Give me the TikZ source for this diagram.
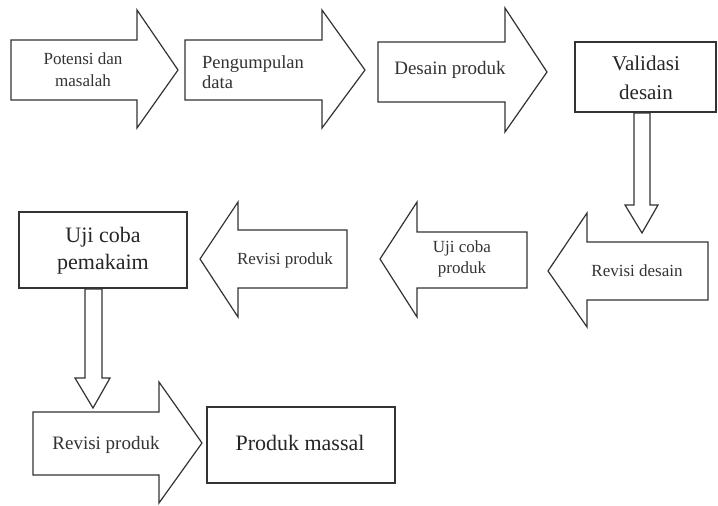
\documentclass[tikz,border=0pt]{standalone}
\usepackage{fontspec}
\setmainfont{Liberation Serif}
\tikzset{
    blockarrow/.style={draw=black!80, line width=1.2pt, fill=white, line join=miter},
    boxed/.style={draw=black!80, line width=1.4pt, fill=white},
    smalltext/.style={text=black!80, align=center, font=\fontsize{17}{22}\selectfont, inner sep=0},
    bigtext/.style={text=black!85, align=center, font=\fontsize{22}{29}\selectfont, inner sep=0}
}

\begin{document}
\begin{tikzpicture}[x=1pt, y=-1pt]
    \useasboundingbox (0,0) rectangle (718,506);
    % top row
    \draw[blockarrow] (11,40) -- (137,40) -- (137,10) -- (178,70) -- (137,128) -- (137,100) -- (11,100) -- cycle;
    \draw[blockarrow] (185,40) -- (322,40) -- (322,10) -- (365,70) -- (322,128) -- (322,100) -- (185,100) -- cycle;
    \draw[blockarrow] (378,42) -- (505,42) -- (505,8) -- (547,72) -- (505,132) -- (505,102) -- (378,102) -- cycle;
    \draw[boxed] (575,42) rectangle (716,112);
    \node[smalltext, font=\fontsize{17}{22}\selectfont] (potensi) at (83,70) {Potensi dan\\masalah};
    \node[smalltext, align=left, font=\fontsize{18.5}{20}\selectfont, anchor=west] (kumpul) at (202,72) {Pengumpulan\\data};
    \node[smalltext, font=\fontsize{19}{22}\selectfont] (desain) at (450,70) {Desain produk};
    \node[bigtext, font=\fontsize{21}{29}\selectfont] (validasi) at (646,78) {Validasi\\desain};
    % down to middle row
    \draw[blockarrow] (634,113) -- (650,113) -- (650,205) -- (658,205) -- (642,233) -- (625,205) -- (634,205) -- cycle;
    % middle row
    \draw[blockarrow] (708,242) -- (587,242) -- (587,213) -- (548,271) -- (587,327) -- (587,300) -- (708,300) -- cycle;
    \draw[blockarrow] (527,232) -- (417,232) -- (417,202) -- (380,259) -- (417,317) -- (417,288) -- (527,288) -- cycle;
    \draw[blockarrow] (347,230) -- (238,230) -- (238,202) -- (200,259) -- (238,317) -- (238,288) -- (347,288) -- cycle;
    \draw[boxed] (19,212) rectangle (187,288);
    \node[smalltext] (revdesain) at (637,271) {Revisi desain};
    \node[smalltext, font=\fontsize{17}{21}\selectfont] (ujiproduk) at (462,259) {Uji coba\\produk};
    \node[smalltext] (revproduk) at (285,260) {Revisi produk};
    \node[bigtext, font=\fontsize{22}{27}\selectfont] (ujipakai) at (103,251) {Uji coba\\pemakaim};
    % down to bottom row
    \draw[blockarrow] (85,289) -- (102,289) -- (102,378) -- (110,378) -- (93,408) -- (75,378) -- (85,378) -- cycle;
    % bottom row
    \draw[blockarrow] (33,412) -- (159,412) -- (159,382) -- (202,443) -- (159,503) -- (159,475) -- (33,475) -- cycle;
    \draw[boxed] (207,407) rectangle (395,483);
    \node[smalltext, font=\fontsize{19}{22}\selectfont] (revproduk2) at (106,445) {Revisi produk};
    \node[bigtext] (massal) at (300,443) {Produk massal};
\end{tikzpicture}
\end{document}
